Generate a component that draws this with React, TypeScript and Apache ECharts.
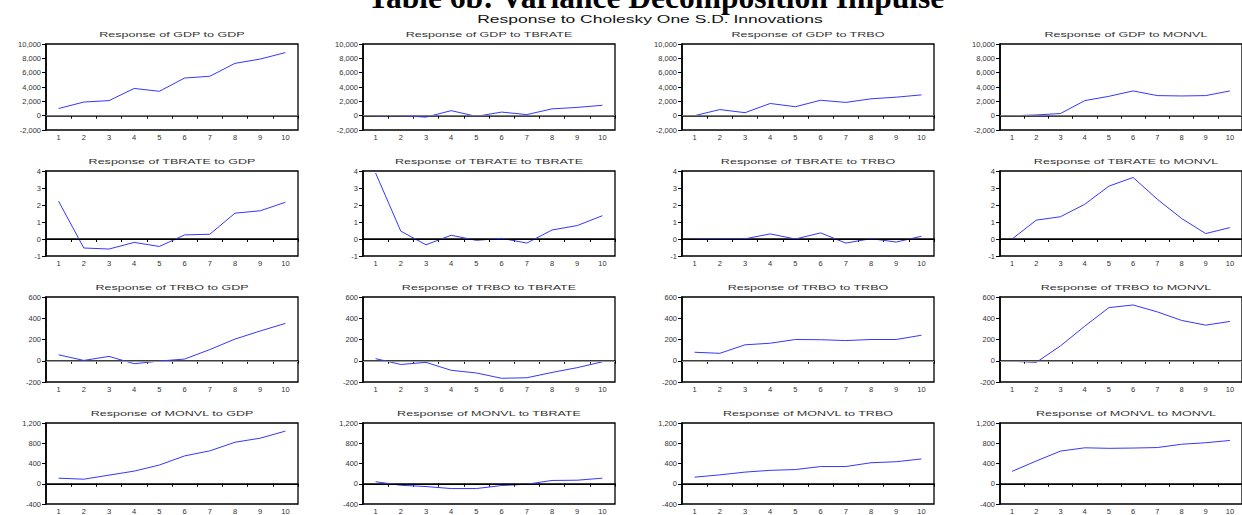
import React, { useEffect, useRef } from "react";
import * as echarts from "echarts";

// ---- data ----
const periods = ["1", "2", "3", "4", "5", "6", "7", "8", "9", "10"];
const variables = ["GDP", "TBRATE", "TRBO", "MONVL"];

const gdpToGdp = [1000, 1900, 2100, 3800, 3400, 5250, 5500, 7300, 7900, 8800];
const gdpToTbrate = [-30, 0, -200, 700, -100, 500, 150, 950, 1150, 1450];
const gdpToTrbo = [0, 850, 420, 1700, 1250, 2150, 1850, 2350, 2580, 2900];
const gdpToMonvl = [-20, 100, 300, 2100, 2700, 3450, 2800, 2750, 2800, 3450];

const tbrateToGdp = [2.22, -0.53, -0.59, -0.2, -0.44, 0.24, 0.28, 1.52, 1.66, 2.16];
const tbrateToTbrate = [3.88, 0.46, -0.34, 0.22, -0.08, 0.04, -0.24, 0.53, 0.79, 1.37];
const tbrateToTrbo = [0, 0, 0.01, 0.3, 0, 0.36, -0.24, 0.02, -0.18, 0.16];
const tbrateToMonvl = [0, 1.11, 1.31, 2.04, 3.11, 3.62, 2.34, 1.21, 0.32, 0.67];

const trboToGdp = [56, 3, 41, -28, -3, 16, 105, 204, 280, 352];
const trboToTbrate = [20, -35, -15, -90, -115, -165, -160, -110, -65, -10];
const trboToTrbo = [80, 70, 150, 165, 200, 198, 190, 200, 200, 240];
const trboToMonvl = [-5, -15, 140, 325, 500, 525, 460, 380, 335, 370];

const monvlToGdp = [110, 90, 170, 250, 370, 550, 650, 820, 900, 1040];
const monvlToTbrate = [40, -30, -55, -95, -95, -35, -10, 65, 70, 110];
const monvlToTrbo = [130, 175, 230, 265, 280, 340, 340, 415, 435, 490];
const monvlToMonvl = [245, 450, 645, 710, 700, 705, 715, 780, 810, 855];

const panelRows = [
  [gdpToGdp, gdpToTbrate, gdpToTrbo, gdpToMonvl],
  [tbrateToGdp, tbrateToTbrate, tbrateToTrbo, tbrateToMonvl],
  [trboToGdp, trboToTbrate, trboToTrbo, trboToMonvl],
  [monvlToGdp, monvlToTbrate, monvlToTrbo, monvlToMonvl],
];

const rowMin = [-2000, -1, -200, -400];
const rowMax = [10000, 4, 600, 1200];
const rowInterval = [2000, 1, 200, 400];

const mainTitle = "Table 6b: Variance Decomposition Impulse";
const subTitle = "Response to Cholesky One S.D. Innovations";

// ---- layout ----
const colLefts = [46, 363, 682, 1000];
const boxWidth = 252;
const rowTops = [44, 171, 297, 423];
const boxHeights = [86, 85, 85, 85];
const zeroColors = ["#7a7a7a", "#000000", "#9a9a9a", "#000000"];
const lineColor = "#3636ff";
const sans = "Liberation Sans, Arial, sans-serif";

export default function App() {
  const ref = useRef<HTMLDivElement>(null);
  useEffect(() => {
    if (!ref.current) return;
    const chart = echarts.init(ref.current, undefined, { renderer: "svg" });
    const grids: any[] = [];
    const xAxes: any[] = [];
    const yAxes: any[] = [];
    const series: any[] = [];
    const graphics: any[] = [
      {
        type: "text",
        x: 656,
        y: -3,
        style: {
          text: mainTitle,
          fontSize: 31.5,
          fontWeight: "bold",
          fontFamily: "Liberation Serif, Times New Roman, serif",
          fill: "#000",
          align: "center",
          verticalAlign: "middle",
          textAlign: "center",
          textVerticalAlign: "middle",
        },
      },
      {
        type: "text",
        x: 650,
        y: 19,
        scaleX: 1.52,
        style: {
          text: subTitle,
          fontSize: 11.5,
          fontFamily: sans,
          fill: "#111",
          align: "center",
          verticalAlign: "middle",
          textAlign: "center",
          textVerticalAlign: "middle",
        },
      },
    ];

    panelRows.forEach((row, r) => {
      row.forEach((values, c) => {
        const idx = r * 4 + c;
        grids.push({
          left: colLefts[c],
          top: rowTops[r],
          width: boxWidth,
          height: boxHeights[r],
          show: true,
          borderColor: "#000",
          borderWidth: 1.3,
          backgroundColor: "transparent",
          containLabel: false,
        });
        xAxes.push({
          type: "category",
          gridIndex: idx,
          data: periods,
          boundaryGap: true,
          axisLine: { lineStyle: { color: "#000", width: 1.6 } },
          axisTick: { show: true, length: 3, lineStyle: { color: "#000", width: 1 } },
          axisLabel: { fontSize: 7.5, color: "#333", margin: 3, fontFamily: sans, interval: 0 },
          splitLine: { show: false },
        });
        yAxes.push({
          type: "value",
          gridIndex: idx,
          min: rowMin[r],
          max: rowMax[r],
          interval: rowInterval[r],
          axisLine: { show: true, lineStyle: { color: "#000", width: 1.6 } },
          axisTick: { show: true, length: 4, lineStyle: { color: "#000", width: 1 } },
          axisLabel: {
            fontSize: 7.5,
            color: "#333",
            margin: 5,
            fontFamily: sans,
            formatter: (v: number) => v.toLocaleString("en-US"),
          },
          splitLine: { show: false },
        });
        series.push({
          type: "line",
          xAxisIndex: idx,
          yAxisIndex: idx,
          data: values,
          showSymbol: false,
          symbol: "none",
          lineStyle: { color: lineColor, width: 1 },
          itemStyle: { color: lineColor },
          markLine: {
            silent: true,
            symbol: "none",
            label: { show: false },
            lineStyle: { color: zeroColors[r], type: "solid", width: 1 },
            data: [{ yAxis: 0 }],
          },
          z: 3,
        });
        graphics.push({
          type: "text",
          x: colLefts[c] + boxWidth / 2,
          y: rowTops[r] - 10,
          scaleX: 1.57,
          style: {
            text: `Response of ${variables[r]} to ${variables[c]}`,
            fontSize: 8,
            fontFamily: sans,
            fill: "#333",
            align: "center",
            verticalAlign: "middle",
            textAlign: "center",
            textVerticalAlign: "middle",
          },
        });
      });
    });

    chart.setOption({
      animation: false,
      backgroundColor: "#ffffff",
      grid: grids,
      xAxis: xAxes,
      yAxis: yAxes,
      series,
      graphic: graphics,
    });
    return () => chart.dispose();
  }, []);
  return (
    <div
      ref={ref}
      style={{ position: "fixed", left: 0, top: 0, width: 1242, height: 515, background: "#fff" }}
    />
  );
}
